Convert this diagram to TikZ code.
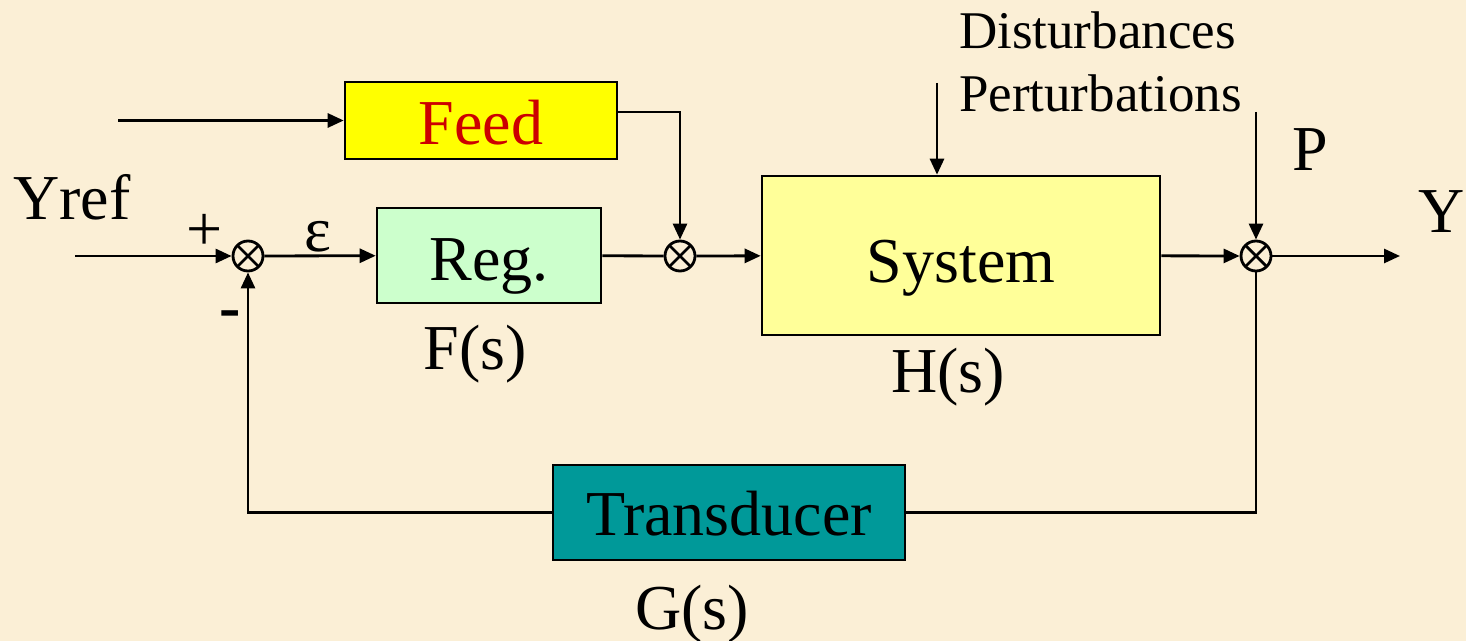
\documentclass[tikz,border=0pt]{standalone}
\usepackage{fontspec}
\setmainfont{Liberation Serif}
\usetikzlibrary{arrows.meta}
\definecolor{parchment}{HTML}{FBEFD6}
\definecolor{feedyellow}{HTML}{FFFF00}
\definecolor{reggreen}{HTML}{CCFFCC}
\definecolor{sysyellow}{HTML}{FFFF99}
\definecolor{transteal}{HTML}{009999}
\definecolor{feedred}{HTML}{CC0000}
\tikzset{
	block/.style={draw, line width=1.3pt, inner sep=0pt, text depth=0pt, text height=#1},
	sum/.style={draw, circle, line width=1.4pt, minimum size=15pt, inner sep=0pt,
		path picture={\draw[line width=1.4pt]
			(path picture bounding box.north east) -- (path picture bounding box.south west)
			(path picture bounding box.north west) -- (path picture bounding box.south east);}},
	sig/.style={line width=1.4pt},
	arr/.style={sig, -{Triangle[length=8pt,width=7pt]}},
	lbl/.style={font=\fontsize{32}{38}\selectfont},
	smalllbl/.style={font=\fontsize{26.5}{31}\selectfont}
}

\begin{document}
\begin{tikzpicture}[x=0.5pt, y=-0.5pt]
			\fill[parchment] (0,0) rectangle (1466,641);
			\useasboundingbox (0,0) rectangle (1466,641);
			% blocks
			\node[block=24.5pt, fill=feedyellow, minimum width=136pt, minimum height=38.5pt, lbl, text=feedred] (feed) at (481,120.5) {Feed};
			\node[block=25.5pt, fill=reggreen, minimum width=112pt, minimum height=47.5pt, lbl] (reg) at (489,255.5) {Reg.};
			\node[block=27.5pt, fill=sysyellow, minimum width=199pt, minimum height=79.5pt, lbl] (sys) at (961,255.5) {System};
			\node[block=22.5pt, fill=transteal, minimum width=176pt, minimum height=47.5pt, lbl] (trans) at (729,512.5) {Transducer};
			\node[sum] (s1) at (248,256) {};
			\node[sum] (s2) at (680,256) {};
			\node[sum] (s3) at (1256,256) {};
			\coordinate (yin) at (75,256);
			\coordinate (fin) at (118,120.5);
			\coordinate (dist) at (937,83);
			\coordinate (pin) at (1256,112);
			\coordinate (yout) at (1400,256);
			% texts
			\node[lbl] (yref) at (72,197) {Yref};
			\node[lbl] (plus) at (205,232) {+};
			\node[lbl, font=\fontsize{32}{38}\selectfont\bfseries] (minus) at (230,320) {-};
			\node[lbl] (eps) at (318,237) {ε};
			\node[lbl] (fs) at (475,354) {F(s)};
			\node[lbl] (hs) at (948,377) {H(s)};
			\node[lbl] (gs) at (692,614) {G(s)};
			\node[lbl] (p) at (1310,150) {P};
			\node[lbl] (y) at (1442,212) {Y};
			\node[smalllbl, anchor=west] (dis) at (952,30) {Disturbances};
			\node[smalllbl, anchor=west] (per) at (952,93) {Perturbations};
			% signal paths
			\draw[arr] (yin) -- (s1);
			\draw[arr] (s1) -- (reg);
			\draw[sig] (reg) -- (s2);
			\draw[arr] (s2) -- (sys);
			\draw[arr] (sys) -- (s3);
			\draw[arr] (s3) -- (yout);
			\draw[arr] (fin) -- (fin -| feed.west);
			\draw[arr] ([yshift=4.25pt]feed.east) -| (s2);
			\draw[arr] (dist) -- (dist |- sys.north);
			\draw[arr] (pin) -- (s3);
			\draw[sig] (s3) |- (trans);
			\draw[arr] (trans) -| (s1);
		\end{tikzpicture}
\end{document}
